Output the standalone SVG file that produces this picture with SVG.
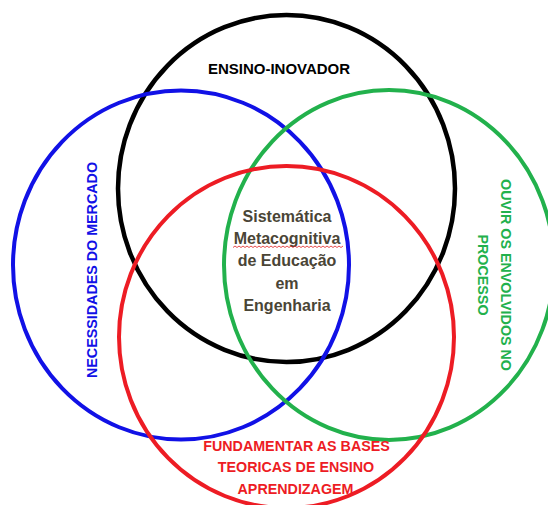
<svg xmlns="http://www.w3.org/2000/svg" width="548" height="505" viewBox="0 0 548 505">
<style>
.c{fill:none}
.t{font-family:"Liberation Sans",Arial,sans-serif;font-weight:bold;text-anchor:middle}
</style>
<rect width="548" height="505" fill="#fff"/>
<g id="connectors"></g>
<g id="black-circle">
<ellipse class="c" cx="286.5" cy="188.5" rx="168.5" ry="173.5" stroke="#000" stroke-width="4.5"/>
<text class="t" x="279" y="73.5" font-size="15" fill="#000">ENSINO-INOVADOR</text>
</g>
<g id="blue-circle">
<ellipse class="c" cx="181" cy="265" rx="168" ry="174.5" stroke="#1111e6" stroke-width="4"/>
<text class="t" transform="translate(97,270) rotate(-90)" font-size="14.3" fill="#1111e6">NECESSIDADES DO MERCADO</text>
</g>
<g id="green-circle">
<ellipse class="c" cx="389" cy="265" rx="165" ry="175" stroke="#22b14c" stroke-width="4"/>
<text class="t" transform="translate(501,275) rotate(90)" font-size="14.3" fill="#22b14c">OUVIR OS ENVOLVIDOS NO</text>
<text class="t" transform="translate(478,275) rotate(90)" font-size="14.3" fill="#22b14c">PROCESSO</text>
</g>
<g id="red-circle">
<ellipse class="c" cx="286.5" cy="337" rx="167.5" ry="171" stroke="#ed1c24" stroke-width="4"/>
<text class="t" x="296.5" y="451" font-size="14.3" fill="#ed1c24">FUNDAMENTAR AS BASES</text>
<text class="t" x="296" y="472" font-size="14.3" fill="#ed1c24">TEORICAS DE ENSINO</text>
<text class="t" x="295.5" y="493.5" font-size="14.3" fill="#ed1c24">APRENDIZAGEM</text>
</g>
<g id="center">
<text class="t" font-size="16" fill="#4a4536"><tspan x="287" y="222">Sistemática</tspan><tspan x="287" y="244">Metacognitiva</tspan><tspan x="287" y="266">de Educação</tspan><tspan x="287" y="289">em</tspan><tspan x="287" y="311">Engenharia</tspan></text>
<path d="M233 247.5 l2 -1.5 l2 1.5 l2 -1.5 l2 1.5 l2 -1.5 l2 1.5 l2 -1.5 l2 1.5 l2 -1.5 l2 1.5 l2 -1.5 l2 1.5 l2 -1.5 l2 1.5 l2 -1.5 l2 1.5 l2 -1.5 l2 1.5 l2 -1.5 l2 1.5 l2 -1.5 l2 1.5 l2 -1.5 l2 1.5 l2 -1.5 l2 1.5 l2 -1.5 l2 1.5 l2 -1.5 l2 1.5 l2 -1.5 l2 1.5 l2 -1.5 l2 1.5 l2 -1.5 l2 1.5 l2 -1.5 l2 1.5 l2 -1.5 l2 1.5 l2 -1.5 l2 1.5 l2 -1.5 l2 1.5 l2 -1.5 l2 1.5 l2 -1.5 l2 1.5 l2 -1.5 l2 1.5 l2 -1.5 l2 1.5 l2 -1.5 l2 1.5 l2 -1.5" fill="none" stroke="#e02020" stroke-width="0.8"/>
</g>
</svg>
